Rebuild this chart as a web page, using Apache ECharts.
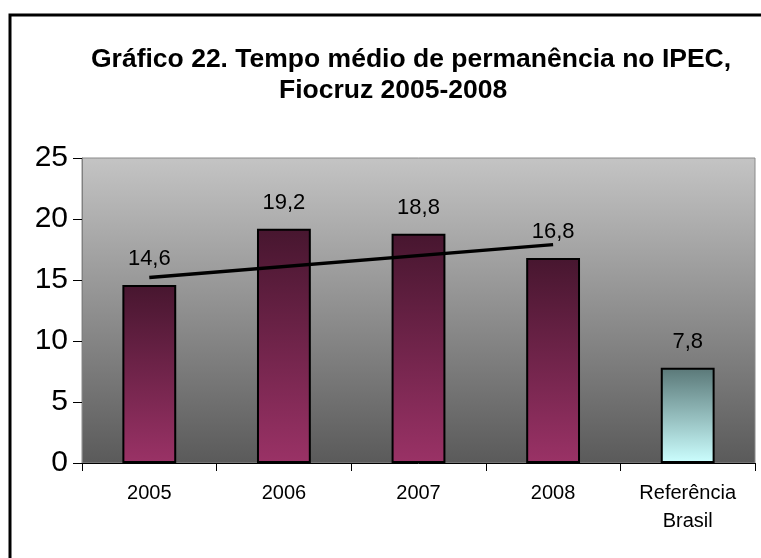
<!DOCTYPE html>
<html>
<head>
<meta charset="utf-8">
<script src="https://cdn.jsdelivr.net/npm/echarts@6/dist/echarts.min.js"></script>
<style>
  html, body { margin: 0; padding: 0; background: #fff; }
  #chart { width: 761px; height: 558px; }
</style>
</head>
<body>
<div id="chart"></div>
<script>
const categories = ['2005', '2006', '2007', '2008', 'Referência\nBrasil'];
const values = [14.6, 19.2, 18.8, 16.8, 7.8];
// trend line, only its two ends
const trend = [15.2, '-', '-', 17.9];
const yTicks = [0, 5, 10, 15, 20, 25];

const titleLines = ['Gráfico 22. Tempo médio de permanência no IPEC,', 'Fiocruz 2005-2008'];

const font = '"Liberation Sans", Arial, sans-serif';

const grad = (top, bottom) => new echarts.graphic.LinearGradient(0, 0, 0, 1, [
  { offset: 0, color: top },
  { offset: 1, color: bottom }
]);

const barData = values.map((v, i) => ({
  value: v,
  itemStyle: {
    color: i === values.length - 1 ? grad('#5a7878', '#ccffff') : grad('#47162f', '#9a3266')
  }
}));

const chart = echarts.init(document.getElementById('chart'));

chart.setOption({
  animation: false,
  textStyle: { fontFamily: font },
  title: [
    {
      text: titleLines[0], left: 91, top: 46, padding: 0,
      textStyle: { fontSize: 26.5, fontWeight: 'bold', color: '#000', fontFamily: font }
    },
    {
      text: titleLines[1], left: 279, top: 77, padding: 0,
      textStyle: { fontSize: 26.5, fontWeight: 'bold', color: '#000', fontFamily: font }
    }
  ],
  graphic: [
    {
      type: 'rect', silent: true,
      shape: { x: 10, y: 15, width: 800, height: 600 },
      style: { fill: 'none', stroke: '#000', lineWidth: 3 }
    }
  ],
  grid: {
    left: 82, right: 6, top: 158, bottom: 95,
    show: true,
    backgroundColor: grad('#c4c4c4', '#5a5a5a'),
    borderColor: '#8a8a8a', borderWidth: 1
  },
  xAxis: {
    type: 'category',
    data: categories,
    boundaryGap: true,
    axisLine: { lineStyle: { color: '#000', width: 1 } },
    axisTick: { show: true, length: 8, lineStyle: { color: '#000' } },
    axisLabel: { color: '#000', fontSize: 20, lineHeight: 28, margin: 16, fontFamily: font, interval: 0 }
  },
  yAxis: {
    type: 'value',
    min: yTicks[0], max: yTicks[yTicks.length - 1], interval: 5,
    axisLine: { show: true, lineStyle: { color: '#808080', width: 1 } },
    axisTick: { show: true, length: 9, lineStyle: { color: '#000' } },
    splitLine: { show: false },
    axisLabel: { color: '#000', fontSize: 30, margin: 14, fontFamily: font }
  },
  series: [
    {
      type: 'bar',
      data: barData,
      barWidth: '40%',
      itemStyle: { borderColor: '#000', borderWidth: 2 },
      label: {
        show: true, position: 'top', distance: 15,
        color: '#000', fontSize: 22, fontFamily: font,
        formatter: p => String(p.value).replace('.', ',')
      }
    },
    {
      type: 'line',
      data: trend,
      connectNulls: true,
      symbol: 'none',
      silent: true,
      lineStyle: { color: '#000', width: 3.5 },
      z: 5
    }
  ]
});
</script>
</body>
</html>
